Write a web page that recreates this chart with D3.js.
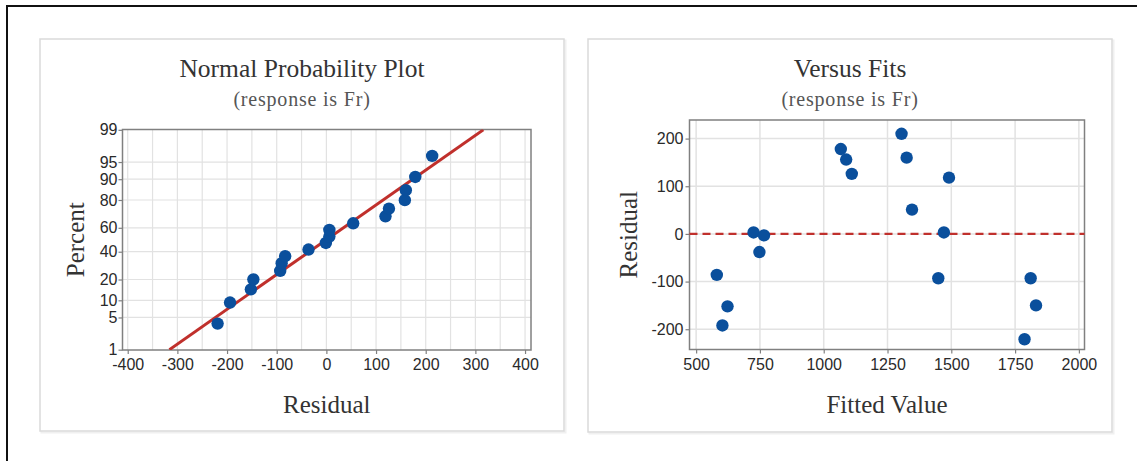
<!DOCTYPE html>
<html>
<head>
<meta charset="utf-8">
<script src="https://cdn.jsdelivr.net/npm/d3@7"></script>
<style>
  body { margin: 0; background: #fff; }
  .title { font-family: "Liberation Serif", "Times New Roman", serif; font-size: 25.5px; fill: #333; }
  .subtitle { font-family: "Liberation Serif", "Times New Roman", serif; font-size: 20px; fill: #555; letter-spacing: 0.8px; }
  .axis-title { font-family: "Liberation Serif", "Times New Roman", serif; font-size: 25px; fill: #333; }
  .axis text { font-family: "Liberation Sans", Arial, sans-serif; font-size: 16px; fill: #2a2a2a; }
</style>
</head>
<body>
<div id="chart"></div>
<script>
'use strict';
// normal probability plot (sorted residuals and their percent)
var probResiduals = [-219, -194, -152, -147, -93, -90, -83, -36, -1, 6, 6, 54, 119, 126, 158, 160, 179, 213];
var probPercents = [3.8, 9.2, 14.7, 20.1, 25.5, 31.0, 36.4, 41.8, 47.3, 52.7, 58.2, 63.6, 69.0, 74.5, 79.9, 85.3, 90.8, 96.2];
// fitted line ends (residual at 1% and 99%)
var fitPercents = [1, 99];
var fitResiduals = [-316, 316];
var probXTicks = [-400, -300, -200, -100, 0, 100, 200, 300, 400];
var probYTicks = [1, 5, 10, 20, 40, 60, 80, 90, 95, 99];

// versus fits
var fittedValues = [581, 603, 623, 725, 748, 766, 1067, 1088, 1110, 1305, 1325, 1346, 1449, 1471, 1491, 1787, 1811, 1832];
var residuals = [-86, -192, -152, 3, -38, -3, 178, 156, 126, 210, 160, 51, -93, 3, 118, -221, -93, -150];
var fitsXTicks = [500, 750, 1000, 1250, 1500, 1750, 2000];
var fitsYTicks = [-200, -100, 0, 100, 200];

var dotColor = '#0a4f9c', redColor = '#c0302c', gridColor = '#e2e2e2', frameColor = '#808080';

// inverse normal cdf (Acklam) for the probability scale
function probit(p) {
    var a = [-3.969683028665376e+01, 2.209460984245205e+02, -2.759285104469687e+02, 1.383577518672690e+02, -3.066479806614716e+01, 2.506628277459239e+00];
    var b = [-5.447609879822406e+01, 1.615858368580409e+02, -1.556989798598866e+02, 6.680131188771972e+01, -1.328068155288572e+01];
    var c = [-7.784894002430293e-03, -3.223964580411365e-01, -2.400758277161838e+00, -2.549732539343734e+00, 4.374664141464968e+00, 2.938163982698783e+00];
    var d = [7.784695709041462e-03, 3.224671290700398e-01, 2.445134137142996e+00, 3.754408661907416e+00];
    var q, r;
    if (p < 0.02425) {
        q = Math.sqrt(-2 * Math.log(p));
        return (((((c[0]*q+c[1])*q+c[2])*q+c[3])*q+c[4])*q+c[5]) / ((((d[0]*q+d[1])*q+d[2])*q+d[3])*q+1);
    } else if (p > 1 - 0.02425) {
        q = Math.sqrt(-2 * Math.log(1 - p));
        return -(((((c[0]*q+c[1])*q+c[2])*q+c[3])*q+c[4])*q+c[5]) / ((((d[0]*q+d[1])*q+d[2])*q+d[3])*q+1);
    }
    q = p - 0.5; r = q * q;
    return (((((a[0]*r+a[1])*r+a[2])*r+a[3])*r+a[4])*r+a[5])*q / (((((b[0]*r+b[1])*r+b[2])*r+b[3])*r+b[4])*r+1);
}

var svg = d3.select('#chart').append('svg')
    .attr('width', 1137)
    .attr('height', 461);

// outer frame (only top/left visible)
svg.append('rect')
    .attr('x', 7).attr('y', 6).attr('width', 1200).attr('height', 500)
    .attr('fill', 'none').attr('stroke', '#111').attr('stroke-width', 2);

// panels
[[40, 39, 524, 392], [588, 39, 524, 393]].forEach(function(p) {
    svg.append('rect')
        .attr('x', p[0] + 1.5).attr('y', p[1] + 1.5).attr('width', p[2]).attr('height', p[3])
        .attr('fill', 'none').attr('stroke', '#f0f0f0').attr('stroke-width', 2);
    svg.append('rect')
        .attr('x', p[0]).attr('y', p[1]).attr('width', p[2]).attr('height', p[3])
        .attr('fill', '#fff').attr('stroke', '#dadada').attr('stroke-width', 1.5);
});

function drawFrame(g, w, h) {
    g.append('rect')
        .attr('width', w).attr('height', h)
        .attr('fill', 'none').attr('stroke', frameColor).attr('stroke-width', 1.5);
}

function styleAxis(sel) {
    sel.attr('class', 'axis');
    sel.select('.domain').remove();
    sel.selectAll('.tick line').attr('stroke', frameColor).attr('stroke-width', 1.2);
}

function drawTitles(cx, title, axisX, axisY, xLabel, yLabel, yLabelX, yLabelY) {
    svg.append('text').attr('class', 'title').attr('x', cx).attr('y', 77)
        .attr('text-anchor', 'middle').text(title);
    svg.append('text').attr('class', 'subtitle').attr('x', cx).attr('y', 106)
        .attr('text-anchor', 'middle').text('(response is Fr)');
    svg.append('text').attr('class', 'axis-title').attr('x', axisX).attr('y', axisY)
        .attr('text-anchor', 'middle').text(xLabel);
    svg.append('text').attr('class', 'axis-title')
        .attr('transform', 'translate(' + yLabelX + ',' + yLabelY + ') rotate(-90)')
        .attr('text-anchor', 'middle').text(yLabel);
}

var plain = function(d) { return String(d); };

// ---------- Normal probability plot ----------
(function() {
    var left = 122.5, top = 129.5, w = 408.5, h = 220.5;
    var g = svg.append('g').attr('transform', 'translate(' + left + ',' + top + ')');
    var x = d3.scaleLinear().domain([-410.5, 412]).range([0, w]);
    var zMax = probit(0.99) * 1.003;
    var y = d3.scaleLinear().domain([-zMax, zMax]).range([h, 0]);
    var yp = function(pct) { return y(probit(pct / 100)); };

    g.append('defs').append('clipPath').attr('id', 'clipProb')
        .append('rect').attr('width', w).attr('height', h);

    g.append('g').selectAll('line').data(d3.range(-400, 401, 50)).join('line')
        .attr('x1', function(d) { return x(d); }).attr('x2', function(d) { return x(d); })
        .attr('y1', 0).attr('y2', h).attr('stroke', gridColor).attr('stroke-width', 1.2);
    g.append('g').selectAll('line').data(probYTicks.slice(1, -1)).join('line')
        .attr('y1', function(d) { return yp(d); }).attr('y2', function(d) { return yp(d); })
        .attr('x1', 0).attr('x2', w).attr('stroke', gridColor).attr('stroke-width', 1.2);

    g.append('g').attr('transform', 'translate(0,' + h + ')')
        .call(d3.axisBottom(x).tickValues(probXTicks).tickFormat(plain).tickSize(4).tickPadding(5))
        .call(styleAxis);
    g.append('g')
        .call(d3.axisLeft(y).tickValues(probYTicks.map(function(p) { return probit(p / 100); }))
            .tickFormat(function(d, i) { return probYTicks[i]; }).tickSize(4).tickPadding(1))
        .call(styleAxis);

    drawFrame(g, w, h);

    var fitData = fitPercents.map(function(p, i) { return {p: p, r: fitResiduals[i]}; });
    g.append('path').datum(fitData)
        .attr('clip-path', 'url(#clipProb)')
        .attr('fill', 'none').attr('stroke', redColor).attr('stroke-width', 3)
        .attr('d', d3.line().x(function(d) { return x(d.r); }).y(function(d) { return yp(d.p); }));

    g.append('g').selectAll('circle').data(probResiduals).join('circle')
        .attr('cx', function(d) { return x(d); })
        .attr('cy', function(d, i) { return yp(probPercents[i]); })
        .attr('r', 6.2).attr('fill', dotColor);

    drawTitles(302, 'Normal Probability Plot', left + w / 2, 413, 'Residual', 'Percent', 84, top + h / 2);
})();

// ---------- Versus fits ----------
(function() {
    var left = 689.5, top = 120, w = 395, h = 229.5;
    var g = svg.append('g').attr('transform', 'translate(' + left + ',' + top + ')');
    var x = d3.scaleLinear().domain([474, 2022]).range([0, w]);
    var y = d3.scaleLinear().domain([-242.5, 239]).range([h, 0]);

    g.append('g').selectAll('line').data(fitsXTicks).join('line')
        .attr('x1', function(d) { return x(d); }).attr('x2', function(d) { return x(d); })
        .attr('y1', 0).attr('y2', h).attr('stroke', gridColor).attr('stroke-width', 1.5);
    g.append('g').selectAll('line').data(fitsYTicks).join('line')
        .attr('y1', function(d) { return y(d); }).attr('y2', function(d) { return y(d); })
        .attr('x1', 0).attr('x2', w).attr('stroke', gridColor).attr('stroke-width', 1.5);

    g.append('g').attr('transform', 'translate(0,' + h + ')')
        .call(d3.axisBottom(x).tickValues(fitsXTicks).tickFormat(plain).tickSize(4).tickPadding(5))
        .call(styleAxis);
    g.append('g')
        .call(d3.axisLeft(y).tickValues(fitsYTicks).tickFormat(plain).tickSize(4).tickPadding(2))
        .call(styleAxis);

    drawFrame(g, w, h);

    g.append('line')
        .attr('x1', 0).attr('x2', w).attr('y1', y(0)).attr('y2', y(0))
        .attr('stroke', redColor).attr('stroke-width', 2.2).attr('stroke-dasharray', '8,5');

    g.append('g').selectAll('circle').data(fittedValues).join('circle')
        .attr('cx', function(d) { return x(d); })
        .attr('cy', function(d, i) { return y(residuals[i]); })
        .attr('r', 6.2).attr('fill', dotColor);

    drawTitles(850, 'Versus Fits', left + w / 2, 413, 'Fitted Value', 'Residual', 637, top + h / 2);
})();
</script>
</body>
</html>
